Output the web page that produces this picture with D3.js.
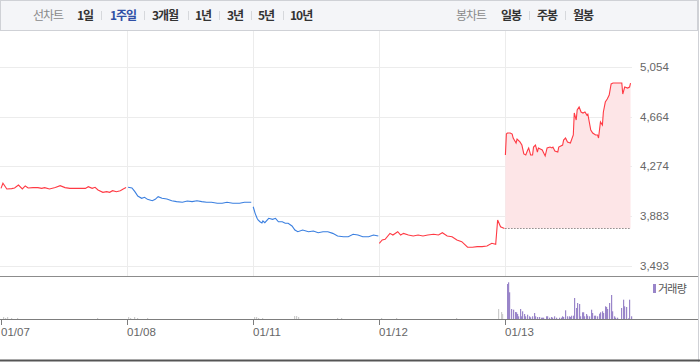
<!DOCTYPE html>
<html>
<head>
<meta charset="utf-8">
<script src="https://cdn.jsdelivr.net/npm/d3@7/dist/d3.min.js"></script>
<style>
  html, body { margin: 0; padding: 0; background: #fff; }
  svg { display: block; font-family: "Noto Sans CJK KR", "Noto Sans", sans-serif; }
</style>
</head>
<body>
<svg id="chart" width="700" height="362"></svg>
<script>
// day labels and 3-minute slots (130 per day)
const days = ['01/07', '01/08', '01/11', '01/12', '01/13'];
const slotsPerDay = 130;
const yTicks = [3493, 3883, 4274, 4664, 5054];
const prevClose = 3788;
const dayColors = ['#ff3a44', '#3a7fe0', '#3a7fe0', '#ff3a44', '#ff3a44'];

// price points [slot, price]
const day1 = [[0, 4102], [2, 4142], [6, 4097], [11, 4100], [14, 4105], [18, 4128], [22, 4097], [25, 4121],
  [28, 4105], [33, 4108], [38, 4108], [42, 4102], [45, 4108], [50, 4097], [56, 4108], [61, 4123],
  [66, 4108], [71, 4102], [87, 4102], [90, 4115], [94, 4102], [97, 4110], [100, 4089], [105, 4071],
  [109, 4076], [112, 4071], [115, 4084], [119, 4076], [123, 4084], [126, 4097], [129, 4108]];
const day2 = [[1, 4111], [5, 4105], [8, 4076], [11, 4042], [15, 4024], [18, 4032], [21, 4016], [26, 4005],
  [29, 4016], [32, 4037], [36, 4024], [41, 4019], [46, 4005], [51, 3998], [57, 3993], [62, 4003],
  [67, 3998], [72, 4005], [77, 3998], [82, 3993], [87, 3993], [93, 3985], [98, 3985], [103, 3993],
  [109, 3985], [116, 3985], [121, 3993], [128, 3993]];
const day3 = [[0, 3958], [2, 3906], [4, 3867], [5, 3854], [7, 3840], [9, 3830], [10, 3846], [12, 3833],
  [16, 3867], [20, 3859], [23, 3867], [26, 3840], [30, 3840], [33, 3828], [36, 3828], [40, 3807],
  [43, 3775], [46, 3762], [51, 3775], [57, 3762], [62, 3768], [67, 3754], [72, 3762], [77, 3762],
  [82, 3749], [87, 3728], [93, 3723], [98, 3723], [103, 3742], [108, 3736], [113, 3723], [119, 3723],
  [124, 3736], [129, 3728]];
const day4 = [[0, 3671], [3, 3697], [6, 3702], [11, 3749], [14, 3736], [19, 3762], [22, 3736], [25, 3749],
  [30, 3736], [35, 3728], [40, 3736], [45, 3728], [50, 3736], [56, 3742], [61, 3736], [65, 3754],
  [70, 3728], [75, 3723], [80, 3697], [85, 3684], [91, 3640], [96, 3640], [101, 3645], [106, 3645],
  [111, 3650], [116, 3671], [120, 3663], [122, 3854], [125, 3801], [129, 3788]];
const day5 = [[0, 4364], [1, 4528], [2, 4536], [5, 4536], [7, 4528], [8, 4497], [11, 4458], [12, 4489],
  [15, 4466], [17, 4442], [19, 4372], [21, 4364], [23, 4403], [24, 4419], [26, 4364], [28, 4364],
  [29, 4426], [31, 4442], [33, 4387], [34, 4419], [38, 4403], [39, 4387], [41, 4356], [43, 4419],
  [46, 4426], [48, 4419], [49, 4426], [51, 4395], [54, 4387], [55, 4426], [59, 4442], [60, 4481],
  [62, 4497], [64, 4466], [67, 4458], [70, 4521], [71, 4693], [73, 4638], [74, 4717], [76, 4740],
  [78, 4701], [80, 4693], [82, 4701], [84, 4677], [85, 4685], [88, 4560], [90, 4536], [93, 4521],
  [95, 4521], [96, 4497], [98, 4623], [100, 4599], [101, 4701], [103, 4779], [105, 4803], [107, 4834],
  [109, 4921], [111, 4928], [120, 4928], [121, 4842], [123, 4897], [126, 4889], [128, 4897], [129, 4928]];
const prices = [day1, day2, day3, day4, day5];

// volume [slot, volume]
const vol1 = [[2, 20], [4, 10], [6, 20], [10, 10], [17, 10], [99, 10]];
const vol2 = [[1, 20], [3, 10], [7, 20], [10, 10], [20, 10]];
const vol3 = [[1, 20], [3, 20], [5, 10], [9, 10], [42, 30], [44, 30], [46, 20], [86, 10], [90, 10]];
const vol4 = [[2, 10], [17, 10], [79, 10], [122, 100], [125, 70], [126, 50]];
const vol5 = [[2, 350], [3, 367], [4, 267], [6, 100], [8, 93], [10, 70], [11, 67], [12, 50], [13, 27],
  [15, 100], [16, 27], [17, 77], [19, 50], [20, 27], [22, 43], [24, 27], [25, 17], [27, 27], [29, 60],
  [31, 27], [33, 20], [35, 20], [37, 13], [38, 13], [39, 13], [42, 27], [43, 27], [45, 13], [47, 20],
  [48, 13], [50, 27], [52, 13], [55, 13], [57, 13], [58, 27], [59, 20], [61, 87], [63, 27], [64, 13],
  [66, 27], [67, 20], [68, 33], [70, 33], [71, 210], [73, 110], [74, 160], [76, 150], [77, 27], [79, 67],
  [80, 67], [81, 27], [83, 50], [84, 33], [86, 27], [88, 93], [89, 60], [91, 33], [92, 33], [94, 27],
  [96, 53], [98, 67], [100, 77], [101, 60], [103, 127], [104, 120], [105, 100], [107, 160], [109, 240],
  [110, 77], [112, 27], [113, 13], [115, 13], [119, 110], [121, 193], [122, 127], [124, 120], [126, 7],
  [127, 193], [129, 27]];
const volumes = [vol1, vol2, vol3, vol4, vol5];

const svg = d3.select('#chart');

const x = d3.scaleLinear()
  .domain([0, days.length * slotsPerDay])
  .range([1, 631.5]);
const y = d3.scaleLinear()
  .domain([3493, 5054])
  .range([266, 67]);
const yVol = d3.scaleLinear()
  .domain([0, 400])
  .range([319, 279]);

const gx = (d, i) => x(i * slotsPerDay + d[0]);

// top toolbar
const bar = svg.append('g');
bar.append('rect')
  .attr('x', 0.5).attr('y', 0.5)
  .attr('width', 697).attr('height', 30)
  .attr('fill', '#f4f5f8')
  .attr('stroke', '#cfd1d6');

const leftItems = [
  { t: '선차트', x: 33, c: '#8a8a8a', w: 400 },
  { t: '1일', x: 77, c: '#333', w: 700 },
  { t: '1주일', x: 110, c: '#2f4fa6', w: 700 },
  { t: '3개월', x: 152, c: '#333', w: 700 },
  { t: '1년', x: 195, c: '#333', w: 700 },
  { t: '3년', x: 227, c: '#333', w: 700 },
  { t: '5년', x: 258, c: '#333', w: 700 },
  { t: '10년', x: 290, c: '#333', w: 700 },
  { t: '봉차트', x: 456, c: '#8a8a8a', w: 400 },
  { t: '일봉', x: 501, c: '#333', w: 700 },
  { t: '주봉', x: 537, c: '#333', w: 700 },
  { t: '월봉', x: 573, c: '#333', w: 700 }
];
bar.selectAll('text')
  .data(leftItems)
  .enter()
  .append('text')
  .attr('x', d => d.x)
  .attr('y', 20)
  .attr('font-size', 12)
  .attr('letter-spacing', -1)
  .attr('font-weight', d => d.w)
  .attr('fill', d => d.c)
  .text(d => d.t);

const seps = [101, 144, 188, 219, 251, 283, 529, 565];
bar.selectAll('line')
  .data(seps)
  .enter()
  .append('line')
  .attr('x1', d => d + 0.5).attr('x2', d => d + 0.5)
  .attr('y1', 11).attr('y2', 20)
  .attr('stroke', '#d6d8dc');

// outer borders
svg.append('line')
  .attr('x1', 698.5).attr('x2', 698.5)
  .attr('y1', 0).attr('y2', 362)
  .attr('stroke', '#cfd1d6');
svg.append('line')
  .attr('x1', 0).attr('x2', 700)
  .attr('y1', 360.5).attr('y2', 360.5)
  .attr('stroke', '#555')
  .attr('stroke-width', 2);

// grid
svg.append('g')
  .selectAll('line')
  .data(yTicks)
  .enter()
  .append('line')
  .attr('x1', 0).attr('x2', 632)
  .attr('y1', d => Math.round(y(d)) + 0.5)
  .attr('y2', d => Math.round(y(d)) + 0.5)
  .attr('stroke', '#ececec');

svg.append('g')
  .selectAll('line')
  .data(days.slice(1))
  .enter()
  .append('line')
  .attr('x1', (d, i) => Math.round(x((i + 1) * slotsPerDay)) + 0.5)
  .attr('x2', (d, i) => Math.round(x((i + 1) * slotsPerDay)) + 0.5)
  .attr('y1', 31).attr('y2', 276)
  .attr('stroke', '#ececec');

svg.append('g')
  .selectAll('text')
  .data(yTicks)
  .enter()
  .append('text')
  .attr('x', 640)
  .attr('y', d => y(d) + 4)
  .attr('font-size', 11.5)
  .attr('fill', '#666')
  .attr('font-family', 'Liberation Sans, Arial, sans-serif')
  .text(d => d3.format(',')(d));

// current day fill and previous close
const last = days.length - 1;
svg.append('path')
  .datum(day5)
  .attr('fill', '#fde5e7')
  .attr('d', d3.area()
    .x(d => gx(d, last))
    .y0(y(prevClose))
    .y1(d => y(d[1])));

svg.append('line')
  .attr('x1', gx(day5[0], last))
  .attr('x2', gx(day5[day5.length - 1], last))
  .attr('y1', Math.round(y(prevClose)) + 0.5)
  .attr('y2', Math.round(y(prevClose)) + 0.5)
  .attr('stroke', '#555')
  .attr('stroke-dasharray', '1,2');

// price lines
prices.forEach((pts, i) => {
  svg.append('path')
    .datum(pts)
    .attr('fill', 'none')
    .attr('stroke', dayColors[i])
    .attr('stroke-width', 1.1)
    .attr('d', d3.line().x(d => gx(d, i)).y(d => y(d[1])));
});

// volume panel
svg.append('line')
  .attr('x1', 0).attr('x2', 698)
  .attr('y1', 276.5).attr('y2', 276.5)
  .attr('stroke', '#8c8c8c');

volumes.forEach((vs, i) => {
  svg.append('g')
    .selectAll('rect')
    .data(vs)
    .enter()
    .append('rect')
    .attr('x', d => Math.round(gx(d, i)))
    .attr('width', 1.2)
    .attr('y', d => yVol(d[1]))
    .attr('height', d => yVol(0) - yVol(d[1]))
    .attr('fill', i === last ? '#9985c9' : '#cccccc');
});

svg.append('line')
  .attr('x1', 0).attr('x2', 698)
  .attr('y1', 319.5).attr('y2', 319.5)
  .attr('stroke', '#7d7d7d');

const xt = svg.append('g');
xt.selectAll('line')
  .data(days)
  .enter()
  .append('line')
  .attr('x1', (d, i) => Math.round(x(i * slotsPerDay)) + 0.5)
  .attr('x2', (d, i) => Math.round(x(i * slotsPerDay)) + 0.5)
  .attr('y1', 320).attr('y2', 325)
  .attr('stroke', '#7d7d7d');
xt.selectAll('text')
  .data(days)
  .enter()
  .append('text')
  .attr('x', (d, i) => Math.round(x(i * slotsPerDay)))
  .attr('y', 336)
  .attr('font-size', 11.5)
  .attr('fill', '#666')
  .attr('font-family', 'Liberation Sans, Arial, sans-serif')
  .text(d => d);

// volume legend
svg.append('rect')
  .attr('x', 653).attr('y', 284)
  .attr('width', 3).attr('height', 9)
  .attr('fill', '#9985c9');
svg.append('text')
  .attr('x', 658).attr('y', 292.5)
  .attr('font-size', 11)
  .attr('letter-spacing', -0.8)
  .attr('fill', '#555')
  .text('거래량');
</script>
</body>
</html>
